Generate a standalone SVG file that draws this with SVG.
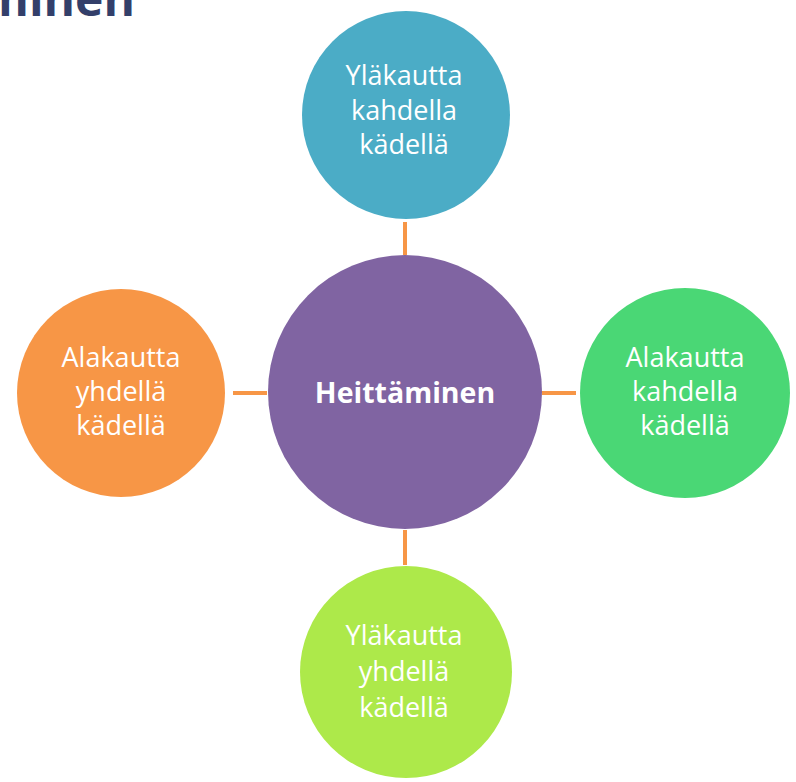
<svg xmlns="http://www.w3.org/2000/svg" width="796" height="782" viewBox="0 0 796 782">
  <style>
    .title { font-family: "Open Sans", "Noto Sans", "Liberation Sans", sans-serif; font-weight: 700; font-size: 48px; fill: #333f6a; }
    .label { font-family: "Open Sans", "Noto Sans", "Liberation Sans", sans-serif; font-size: 27px; fill: #ffffff; text-anchor: middle; }
    .hub { font-family: "Open Sans", "Noto Sans", "Liberation Sans", sans-serif; font-weight: 700; font-size: 28.5px; fill: #ffffff; text-anchor: middle; }
    .link { stroke: #f79646; stroke-width: 4; fill: none; }
  </style>

  <rect width="796" height="782" fill="#ffffff"/>

  <!-- Page heading, running off the top-left edge -->
  <text class="title" x="135" y="16" text-anchor="end">Heittäminen</text>

  <!-- Spokes between hub and satellites -->
  <g id="connectors">
    <line class="link" x1="405" y1="222" x2="405" y2="255"/>
    <line class="link" x1="405" y1="530" x2="405" y2="565"/>
    <line class="link" x1="233" y1="393" x2="267" y2="393"/>
    <line class="link" x1="542" y1="393" x2="576" y2="393"/>
  </g>

  <g id="hub">
    <circle cx="405" cy="392" r="137" fill="#8064a2"/>
    <text class="hub" x="405" y="403">Heittäminen</text>
  </g>

  <g id="top">
    <circle cx="406" cy="115" r="104" fill="#4bacc6"/>
    <text class="label" x="404" y="85">Yläkautta</text>
    <text class="label" x="404" y="120">kahdella</text>
    <text class="label" x="404" y="154">kädellä</text>
  </g>

  <g id="left">
    <circle cx="121" cy="393" r="104" fill="#f79646"/>
    <text class="label" x="121" y="367">Alakautta</text>
    <text class="label" x="121" y="401">yhdellä</text>
    <text class="label" x="121" y="435">kädellä</text>
  </g>

  <g id="right">
    <circle cx="685" cy="393" r="105" fill="#4ad775"/>
    <text class="label" x="685" y="367">Alakautta</text>
    <text class="label" x="685" y="401">kahdella</text>
    <text class="label" x="685" y="435">kädellä</text>
  </g>

  <g id="bottom">
    <circle cx="406" cy="672" r="106" fill="#ade94a"/>
    <text class="label" x="404" y="645">Yläkautta</text>
    <text class="label" x="404" y="681">yhdellä</text>
    <text class="label" x="404" y="717">kädellä</text>
  </g>
</svg>
